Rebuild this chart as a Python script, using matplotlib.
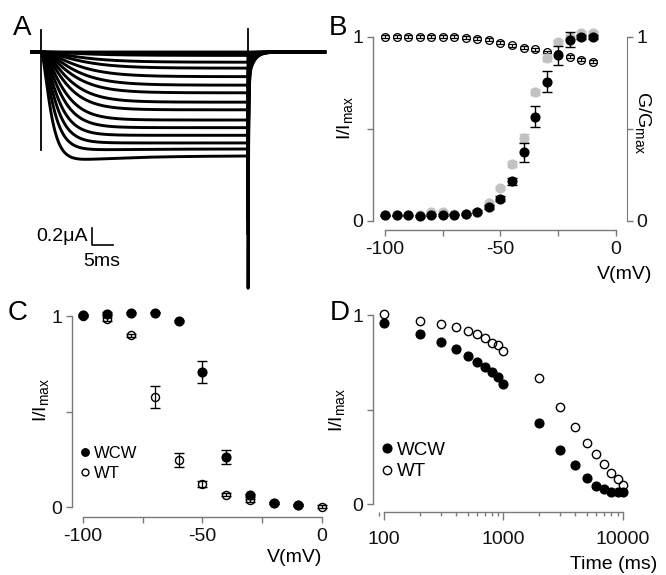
import numpy as np
import matplotlib
matplotlib.use("Agg")
import matplotlib.pyplot as plt
from matplotlib.ticker import FixedLocator, NullFormatter, LogLocator

plt.rcParams['font.family'] = ['Liberation Sans', 'DejaVu Sans']
plt.rcParams['mathtext.fontset'] = 'custom'
plt.rcParams['mathtext.rm'] = 'Liberation Sans'
plt.rcParams['mathtext.default'] = 'regular'
plt.rcParams['axes.unicode_minus'] = False
plt.rcParams['font.size'] = 14

# ---------------- data ----------------
# A: current traces (uA), one entry per voltage step
step_start_level = [0.0, 0.02, 0.04, 0.12, 0.19, 0.29, 0.39, 0.48, 0.59, 0.68, 0.80, 0.89, 0.98, 1.07, 1.17, 1.32]
step_end_level = [0.0, 0.02, 0.04, 0.12, 0.19, 0.29, 0.39, 0.48, 0.59, 0.68, 0.80, 0.89, 0.98, 1.07, 1.14, 1.22]
step_tau = [8.0, 8.0, 8.0, 7.5, 7.0, 6.5, 6.0, 5.5, 5.0, 4.5, 4.0, 3.5, 3.0, 2.6, 2.2, 1.8]  # ms
tail_fast = [0.0, 0.05, 0.1, 0.25, 0.38, 0.52, 0.66, 0.8, 0.95, 1.1, 1.28, 1.42, 1.58, 1.75, 1.9, 2.52]
tail_slow = [0.0, 0.01, 0.02, 0.04, 0.06, 0.08, 0.1, 0.12, 0.14, 0.16, 0.19, 0.21, 0.24, 0.27, 0.3, 0.33]
tail_fast_tau = 0.12   # ms
tail_slow_tau = 1.3    # ms
pulse_len = 50.0       # ms
trace_start, trace_end = -2.3, 68.5
cap_on = [0.26, -1.15]
cap_off = [0.27, 0.0]
scale_t, scale_i = 5.0, 0.2

# B: activation / conductance vs voltage
v_act = [-100, -95, -90, -85, -80, -75, -70, -65, -60, -55, -50, -45, -40, -35, -30, -25, -20, -15, -10]
wcw_act = [0.03, 0.03, 0.03, 0.025, 0.032, 0.032, 0.035, 0.038, 0.05, 0.076, 0.121, 0.215, 0.372,
           0.567, 0.756, 0.90, 0.985, 1.0, 1.0]
wcw_act_err = [0.005, 0.005, 0.005, 0.005, 0.005, 0.005, 0.005, 0.005, 0.008, 0.01, 0.012, 0.018,
               0.05, 0.057, 0.057, 0.05, 0.04, 0.01, 0.01]
wt_act = [0.03, 0.03, 0.03, 0.03, 0.05, 0.05, 0.04, 0.04, 0.05, 0.097, 0.18, 0.31, 0.45, 0.70,
          0.888, 0.973, 1.0, 1.02, 1.02]
wt_act_err = [0.005, 0.005, 0.005, 0.005, 0.005, 0.005, 0.005, 0.005, 0.005, 0.008, 0.01, 0.015,
              0.02, 0.015, 0.02, 0.01, 0.01, 0.01, 0.01]
open_act = [1.0, 1.0, 1.0, 1.0, 1.0, 1.0, 1.0, 0.996, 0.99, 0.985, 0.967, 0.955, 0.94, 0.933,
            0.918, 0.905, 0.892, 0.877, 0.865]
open_act_err = [0.008] * 19

# C: steady-state inactivation
v_inact = [-100, -90, -80, -70, -60, -50, -40, -30, -20, -10, 0]
wcw_inact = [1.009, 1.014, 1.017, 1.02, 0.976, 0.706, 0.262, 0.061, 0.023, 0.012]
wcw_inact_err = [0.005, 0.008, 0.005, 0.005, 0.005, 0.058, 0.038, 0.01, 0.005, 0.005]
wt_inact = [1.0, 0.988, 0.90, 0.577, 0.248, 0.122, 0.065, 0.035, 0.02, 0.01, 0.003]
wt_inact_err = [0.005, 0.01, 0.008, 0.059, 0.038, 0.015, 0.008, 0.008, 0.005, 0.005, 0.008]

# D: recovery vs time
t_rec = [100, 200, 300, 400, 500, 600, 700, 800, 900, 1000, 2000, 3000, 4000, 5000, 6000, 7000,
         8000, 9000, 10000]
wcw_rec = [0.961, 0.90, 0.856, 0.819, 0.785, 0.754, 0.724, 0.697, 0.671, 0.636, 0.428, 0.285,
           0.208, 0.136, 0.097, 0.081, 0.063, 0.063, 0.063]
wt_rec = [1.009, 0.968, 0.951, 0.935, 0.917, 0.90, 0.877, 0.854, 0.842, 0.812, 0.669, 0.516,
          0.407, 0.326, 0.264, 0.213, 0.167, 0.132, 0.102]

GREY = '#7a7a7a'
W, H = 666, 575


def px_axes(fig, x0, y0, x1, y1):
    # axes box given in pixel coords (top-left origin)
    return fig.add_axes([x0 / W, 1 - y1 / H, (x1 - x0) / W, (y1 - y0) / H])


def style_axes(ax):
    for s in ['top', 'right']:
        ax.spines[s].set_visible(False)
    for s in ['left', 'bottom', 'right']:
        ax.spines[s].set_color(GREY)
        ax.spines[s].set_linewidth(1.0)
    ax.spines['left'].set_bounds(0, 1)
    ax.set_yticks([0, 0.5, 1])
    ax.set_yticklabels(['0', '', '1'])
    ax.tick_params(direction='out', length=4, width=1, color=GREY, labelcolor='#111111')
    ax.tick_params(axis='y', pad=3)
    ax.tick_params(axis='x', pad=4)
    ax.patch.set_alpha(0)


fig = plt.figure(figsize=(W / 100, H / 100), dpi=100)

# ---------------- A ----------------
axA = px_axes(fig, 0, 0, 340, 290)
axA.set_xlim(-9.9, 72.2)
axA.set_ylim(-2.8, 0.612)
axA.axis('off')

t = np.linspace(trace_start, trace_end, 5000)
for a0, a1, tau, tf, ts in zip(step_start_level, step_end_level, step_tau, tail_fast, tail_slow):
    i = np.zeros_like(t)
    on = (t >= 0) & (t <= pulse_len)
    tt = t[on]
    i[on] = -(a1 + (a0 - a1) * np.exp(-tt / 15.0)) * (1 - np.exp(-tt / tau)) ** 2
    off = t > pulse_len
    dt = t[off] - pulse_len
    i[off] = -tf * np.exp(-dt / tail_fast_tau) - ts * np.exp(-dt / tail_slow_tau)
    axA.plot(t, i, color='black', lw=2.1, solid_joinstyle='round')

axA.plot([0, 0], cap_on, color='black', lw=1.3)
axA.plot([pulse_len, pulse_len], cap_off, color='black', lw=1.3)

# scale bar
sb_t, sb_i = 12.3, -2.27
axA.plot([sb_t, sb_t, sb_t + scale_t], [sb_i + scale_i, sb_i, sb_i], color='black', lw=1.2)
axA.text(sb_t - 0.9, sb_i + 0.1, '0.2\u03bcA', ha='right', va='center', fontsize=14)
axA.text(sb_t + scale_t / 2 - 0.2, sb_i - 0.2, '5ms', ha='center', va='center', fontsize=14)

# ---------------- B ----------------
axB = px_axes(fig, 373, 24, 627, 230)
axB.set_xlim(-105.2, 4.8)
axB.set_ylim(-0.049, 1.07)
style_axes(axB)
axB.spines['bottom'].set_bounds(-100, 0)
axB.set_xticks([-100, -50, 0])
axB.xaxis.set_minor_locator(FixedLocator([-75, -25]))
axB.tick_params(axis='x', which='minor', direction='out', length=4, width=1, color=GREY)

axB.errorbar(v_act, open_act, yerr=open_act_err, fmt='o', ms=5.6, mfc='none', mec='black', mew=0.9,
             ecolor='black', elinewidth=0.8, capsize=3, capthick=0.8, zorder=2)
axB.errorbar(v_act, wt_act, yerr=wt_act_err, fmt='o', ms=6.3, mfc='#c2c2c2', mec='#c2c2c2',
             ecolor='#c2c2c2', elinewidth=1, capsize=3.5, capthick=1, zorder=3)
axB.errorbar(v_act, wcw_act, yerr=wcw_act_err, fmt='o', ms=6.3, mfc='black', mec='black',
             ecolor='black', elinewidth=1, capsize=3.5, capthick=1, zorder=4)

axB.set_ylabel('I/I$_{max}$', va='center')
axB.yaxis.set_label_coords(-0.110, 0.544)
axB.set_xlabel('V(mV)', ha='right', va='center')
axB.xaxis.set_label_coords(1.098, -0.218)

axB2 = axB.twinx()
axB2.set_ylim(axB.get_ylim())
for s in ['top', 'left', 'bottom']:
    axB2.spines[s].set_visible(False)
axB2.spines['right'].set_color(GREY)
axB2.spines['right'].set_bounds(0, 1)
axB2.set_yticks([0, 0.5, 1])
axB2.set_yticklabels(['0', '', '1'])
axB2.tick_params(direction='out', length=4, width=1, color=GREY, labelcolor='#111111', pad=3)
axB2.set_ylabel('G/G$_{max}$', rotation=270, va='center')
axB2.yaxis.set_label_coords(1.063, 0.519)

# ---------------- C ----------------
axC = px_axes(fig, 72, 303, 331, 517)
axC.set_xlim(-104.6, 3.8)
axC.set_ylim(-0.052, 1.07)
style_axes(axC)
axC.spines['bottom'].set_bounds(-100, 0)
axC.set_xticks([-100, -50, 0])
axC.xaxis.set_minor_locator(FixedLocator([-75, -25]))
axC.tick_params(axis='x', which='minor', direction='out', length=4, width=1, color=GREY)

wt_c = axC.errorbar(v_inact, wt_inact, yerr=wt_inact_err, fmt='o', ms=5.8, mfc='none', mec='black',
                    mew=1, ecolor='black', elinewidth=0.9, capsize=3.5, capthick=0.9, zorder=2)
wcw_c = axC.errorbar(v_inact[:len(wcw_inact)], wcw_inact, yerr=wcw_inact_err, fmt='o', ms=6.3,
                     mfc='black', mec='black', ecolor='black', elinewidth=1, capsize=3.5, capthick=1,
                     zorder=3)

axC.legend([wcw_c[0], wt_c[0]], ['WCW', 'WT'], loc='center left', bbox_to_anchor=(0.025, 0.25),
           frameon=False, fontsize=12, handlelength=0.8, handletextpad=0.15, labelspacing=0.3,
           borderpad=0, borderaxespad=0, markerscale=0.85)

axC.set_ylabel('I/I$_{max}$', va='center')
axC.yaxis.set_label_coords(-0.120, 0.547)
axC.set_xlabel('V(mV)', ha='right', va='center')
axC.xaxis.set_label_coords(0.965, -0.187)

# ---------------- D ----------------
axD = px_axes(fig, 373, 302, 632, 512)
axD.set_xscale('log')
axD.set_xlim(80.9, 11900)
axD.set_ylim(-0.042, 1.07)
style_axes(axD)
axD.spines['bottom'].set_bounds(100, 10000)
axD.set_xticks([100, 1000, 10000])
axD.set_xticklabels(['100', '1000', '10000'])
axD.xaxis.set_minor_locator(LogLocator(base=10, subs=np.arange(2, 10), numticks=10))
axD.xaxis.set_minor_formatter(NullFormatter())
axD.tick_params(axis='x', which='major', length=6, pad=8)
axD.tick_params(axis='x', which='minor', direction='out', length=3, width=1, color=GREY)

wt_d, = axD.plot(t_rec, wt_rec, 'o', ms=6.0, mfc='none', mec='black', mew=1, zorder=2)
wcw_d, = axD.plot(t_rec, wcw_rec, 'o', ms=6.3, mfc='black', mec='black', zorder=3)
axD.legend([wcw_d, wt_d], ['WCW', 'WT'], loc='center left', bbox_to_anchor=(0.025, 0.243),
           frameon=False, fontsize=13.5, handlelength=0.8, handletextpad=0.15, labelspacing=0.25,
           borderpad=0, borderaxespad=0)

axD.set_ylabel('I/I$_{max}$', va='center')
axD.yaxis.set_label_coords(-0.139, 0.486)
axD.set_xlabel('Time (ms)', ha='right', va='center')
axD.xaxis.set_label_coords(1.097, -0.252)

# panel letters
for letter, x, y in [('A', 13, 35), ('B', 329, 35), ('C', 8, 320), ('D', 330, 320)]:
    fig.text(x / W, 1 - y / H, letter, fontsize=20, ha='left', va='baseline')

fig.savefig('out.png', dpi=100)
